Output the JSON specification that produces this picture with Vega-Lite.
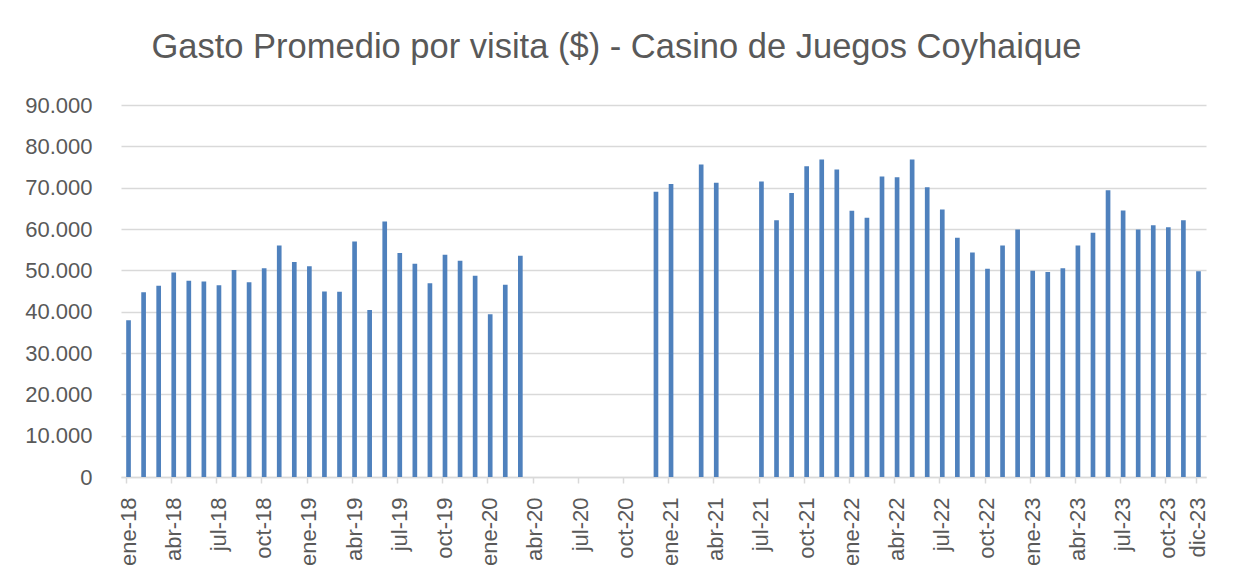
{
  "$schema": "https://vega.github.io/schema/vega-lite/v6.json",
  "width": 1085,
  "height": 372,
  "autosize": "none",
  "padding": {"left": 121, "top": 105, "right": 27, "bottom": 101},
  "background": "white",
  "config": {
    "view": {"stroke": null},
    "font": "Liberation Sans",
    "axis": {"labelFontSize": 22, "labelColor": "#595959", "labelFont": "Liberation Sans", "title": null},
    "axisX": {"labelAngle": -90, "labelPadding": 14, "tickColor": "#d9d9d9", "tickWidth": 1.5, "tickSize": 6, "domainColor": "#d9d9d9", "domainWidth": 1.5, "grid": false, "bandPosition": 0},
    "axisY": {"labelPadding": 29, "domain": false, "ticks": false, "grid": true, "gridColor": "#d9d9d9", "gridWidth": 1.5}
  },
  "title": {
    "text": "Gasto Promedio por visita ($) - Casino de Juegos Coyhaique",
    "fontSize": 34.5,
    "fontWeight": "normal",
    "color": "#595959",
    "font": "Liberation Sans",
    "anchor": "middle",
    "dx": -47,
    "offset": 29
  },
  "data": {
    "values": [
      {"mes": "ene-18", "gasto": 37900}, {"mes": "feb-18", "gasto": 44700}, {"mes": "mar-18", "gasto": 46300},
      {"mes": "abr-18", "gasto": 49500}, {"mes": "may-18", "gasto": 47500}, {"mes": "jun-18", "gasto": 47300},
      {"mes": "jul-18", "gasto": 46400}, {"mes": "ago-18", "gasto": 50100}, {"mes": "sep-18", "gasto": 47100},
      {"mes": "oct-18", "gasto": 50500}, {"mes": "nov-18", "gasto": 56000}, {"mes": "dic-18", "gasto": 52000},
      {"mes": "ene-19", "gasto": 51000}, {"mes": "feb-19", "gasto": 44900}, {"mes": "mar-19", "gasto": 44800},
      {"mes": "abr-19", "gasto": 57000}, {"mes": "may-19", "gasto": 40400}, {"mes": "jun-19", "gasto": 61800},
      {"mes": "jul-19", "gasto": 54200}, {"mes": "ago-19", "gasto": 51600}, {"mes": "sep-19", "gasto": 46900},
      {"mes": "oct-19", "gasto": 53800}, {"mes": "nov-19", "gasto": 52300}, {"mes": "dic-19", "gasto": 48700},
      {"mes": "ene-20", "gasto": 39400}, {"mes": "feb-20", "gasto": 46500}, {"mes": "mar-20", "gasto": 53500},
      {"mes": "dic-20", "gasto": 69000}, {"mes": "ene-21", "gasto": 70900}, {"mes": "mar-21", "gasto": 75600},
      {"mes": "abr-21", "gasto": 71200}, {"mes": "jul-21", "gasto": 71500}, {"mes": "ago-21", "gasto": 62100},
      {"mes": "sep-21", "gasto": 68700}, {"mes": "oct-21", "gasto": 75200}, {"mes": "nov-21", "gasto": 76800},
      {"mes": "dic-21", "gasto": 74400}, {"mes": "ene-22", "gasto": 64400}, {"mes": "feb-22", "gasto": 62700},
      {"mes": "mar-22", "gasto": 72700}, {"mes": "abr-22", "gasto": 72500}, {"mes": "may-22", "gasto": 76800},
      {"mes": "jun-22", "gasto": 70100}, {"mes": "jul-22", "gasto": 64700}, {"mes": "ago-22", "gasto": 57900},
      {"mes": "sep-22", "gasto": 54300}, {"mes": "oct-22", "gasto": 50400}, {"mes": "nov-22", "gasto": 56000},
      {"mes": "dic-22", "gasto": 59900}, {"mes": "ene-23", "gasto": 49900}, {"mes": "feb-23", "gasto": 49600},
      {"mes": "mar-23", "gasto": 50500}, {"mes": "abr-23", "gasto": 56000}, {"mes": "may-23", "gasto": 59100},
      {"mes": "jun-23", "gasto": 69400}, {"mes": "jul-23", "gasto": 64500}, {"mes": "ago-23", "gasto": 59900},
      {"mes": "sep-23", "gasto": 60900}, {"mes": "oct-23", "gasto": 60400}, {"mes": "nov-23", "gasto": 62100},
      {"mes": "dic-23", "gasto": 49800}
    ]
  },
  "mark": {"type": "bar", "color": "#4f81bd"},
  "encoding": {
    "x": {
      "field": "mes",
      "type": "ordinal",
      "sort": null,
      "scale": {
        "domain": ["ene-18","feb-18","mar-18","abr-18","may-18","jun-18","jul-18","ago-18","sep-18","oct-18","nov-18","dic-18",
                   "ene-19","feb-19","mar-19","abr-19","may-19","jun-19","jul-19","ago-19","sep-19","oct-19","nov-19","dic-19",
                   "ene-20","feb-20","mar-20","abr-20","may-20","jun-20","jul-20","ago-20","sep-20","oct-20","nov-20","dic-20",
                   "ene-21","feb-21","mar-21","abr-21","may-21","jun-21","jul-21","ago-21","sep-21","oct-21","nov-21","dic-21",
                   "ene-22","feb-22","mar-22","abr-22","may-22","jun-22","jul-22","ago-22","sep-22","oct-22","nov-22","dic-22",
                   "ene-23","feb-23","mar-23","abr-23","may-23","jun-23","jul-23","ago-23","sep-23","oct-23","nov-23","dic-23"],
        "paddingInner": 0.69,
        "paddingOuter": 0.345
      },
      "axis": {
        "values": ["ene-18","abr-18","jul-18","oct-18","ene-19","abr-19","jul-19","oct-19","ene-20","abr-20","jul-20","oct-20",
                   "ene-21","abr-21","jul-21","oct-21","ene-22","abr-22","jul-22","oct-22","ene-23","abr-23","jul-23","oct-23","dic-23"]
      }
    },
    "y": {
      "field": "gasto",
      "type": "quantitative",
      "scale": {"domain": [0, 90000], "nice": false},
      "axis": {
        "values": [0, 10000, 20000, 30000, 40000, 50000, 60000, 70000, 80000, 90000],
        "labelExpr": "replace(format(datum.value, ','), ',', '.')"
      }
    }
  }
}
